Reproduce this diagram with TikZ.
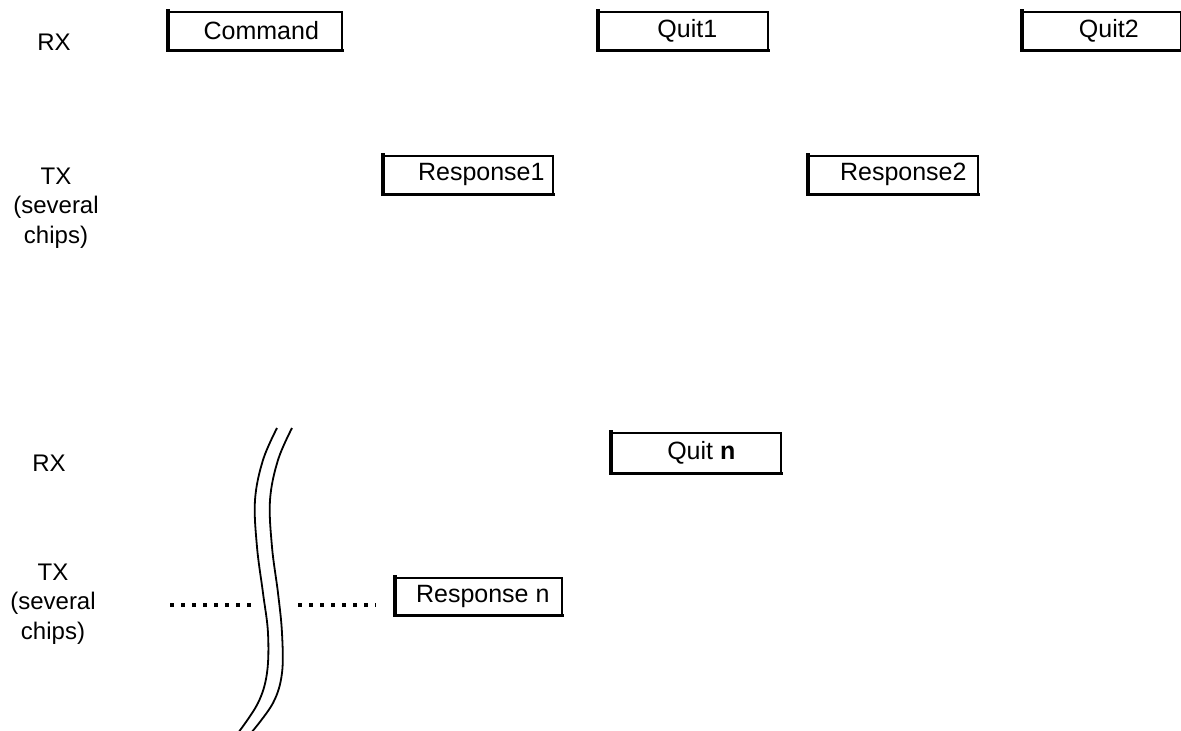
\documentclass[tikz,border=0pt]{standalone}
\usepackage{fontspec}
\setmainfont{Liberation Sans}
\newcommand{\pad}[1]{\hspace*{#1pt}}
\begin{document}
\begin{tikzpicture}[x=1pt,y=-1pt,
  lbl/.style={font=\fontsize{24}{29.5}\selectfont, align=center, inner sep=0pt},
  frame/.style={draw, line width=1.6pt, minimum width=169pt, minimum height=38pt,
                inner sep=0pt, anchor=north west, font=\fontsize{25}{28}\selectfont},
  edge/.style={line width=3.2pt, line cap=rect},
  wave/.style={line width=1.8pt},
  dots/.style={line width=4pt, dash pattern=on 4pt off 7pt}]
\useasboundingbox (0,0) rectangle (1181,731);
\clip (0,0) rectangle (1181,731);

% row labels
\node[lbl] (rx1) at (54,42) {RX};
\node[lbl] (tx1) at (56,208) {TX\\(several\\chips)};
\node[lbl] (rx2) at (49,463) {RX};
\node[lbl] (tx2) at (53,604) {TX\\(several\\chips)};

% message boxes
\node[frame, minimum width=173pt] (cmd)   at (168,11)  {\pad{12}Command};
\node[frame] (quit1) at (598,11)  {\pad{8}Quit1};
\node[frame, minimum width=158pt] (quit2) at (1022,11) {\pad{14}Quit2};
\node[frame] (resp1) at (383,155) {\pad{26}Response1};
\node[frame] (resp2) at (808,155) {\pad{20}Response2};
\node[frame, minimum height=40pt] (quitn) at (611,432) {\pad{10}Quit \textbf{n}};
\node[frame, minimum width=166pt, minimum height=37pt] (respn) at (395,577) {\pad{8}Response n};

% heavier left and bottom edges
\foreach \b in {cmd,quit1,quit2,resp1,resp2,quitn,respn}
  \draw[edge] (\b.north west) -- (\b.south west) -- (\b.south east);

% break mark
\draw[wave] plot[smooth, tension=0.6] coordinates {(277,428) (263,460) (255,500) (257,547) (263,593) (268,633) (267,673) (258,703) (238,733)};
\draw[wave] plot[smooth, tension=0.6] coordinates {(292,428) (278,460) (270,500) (272,547) (278,593) (282,633) (282,673) (273,703) (251,733)};

% continuation dots
\coordinate (d1a) at (170,605);
\coordinate (d1b) at (252,605);
\coordinate (d2a) at (298,605);
\coordinate (d2b) at (376,605);
\draw[dots] (d1a) -- (d1b);
\draw[dots] (d2a) -- (d2b);
\end{tikzpicture}
\end{document}
